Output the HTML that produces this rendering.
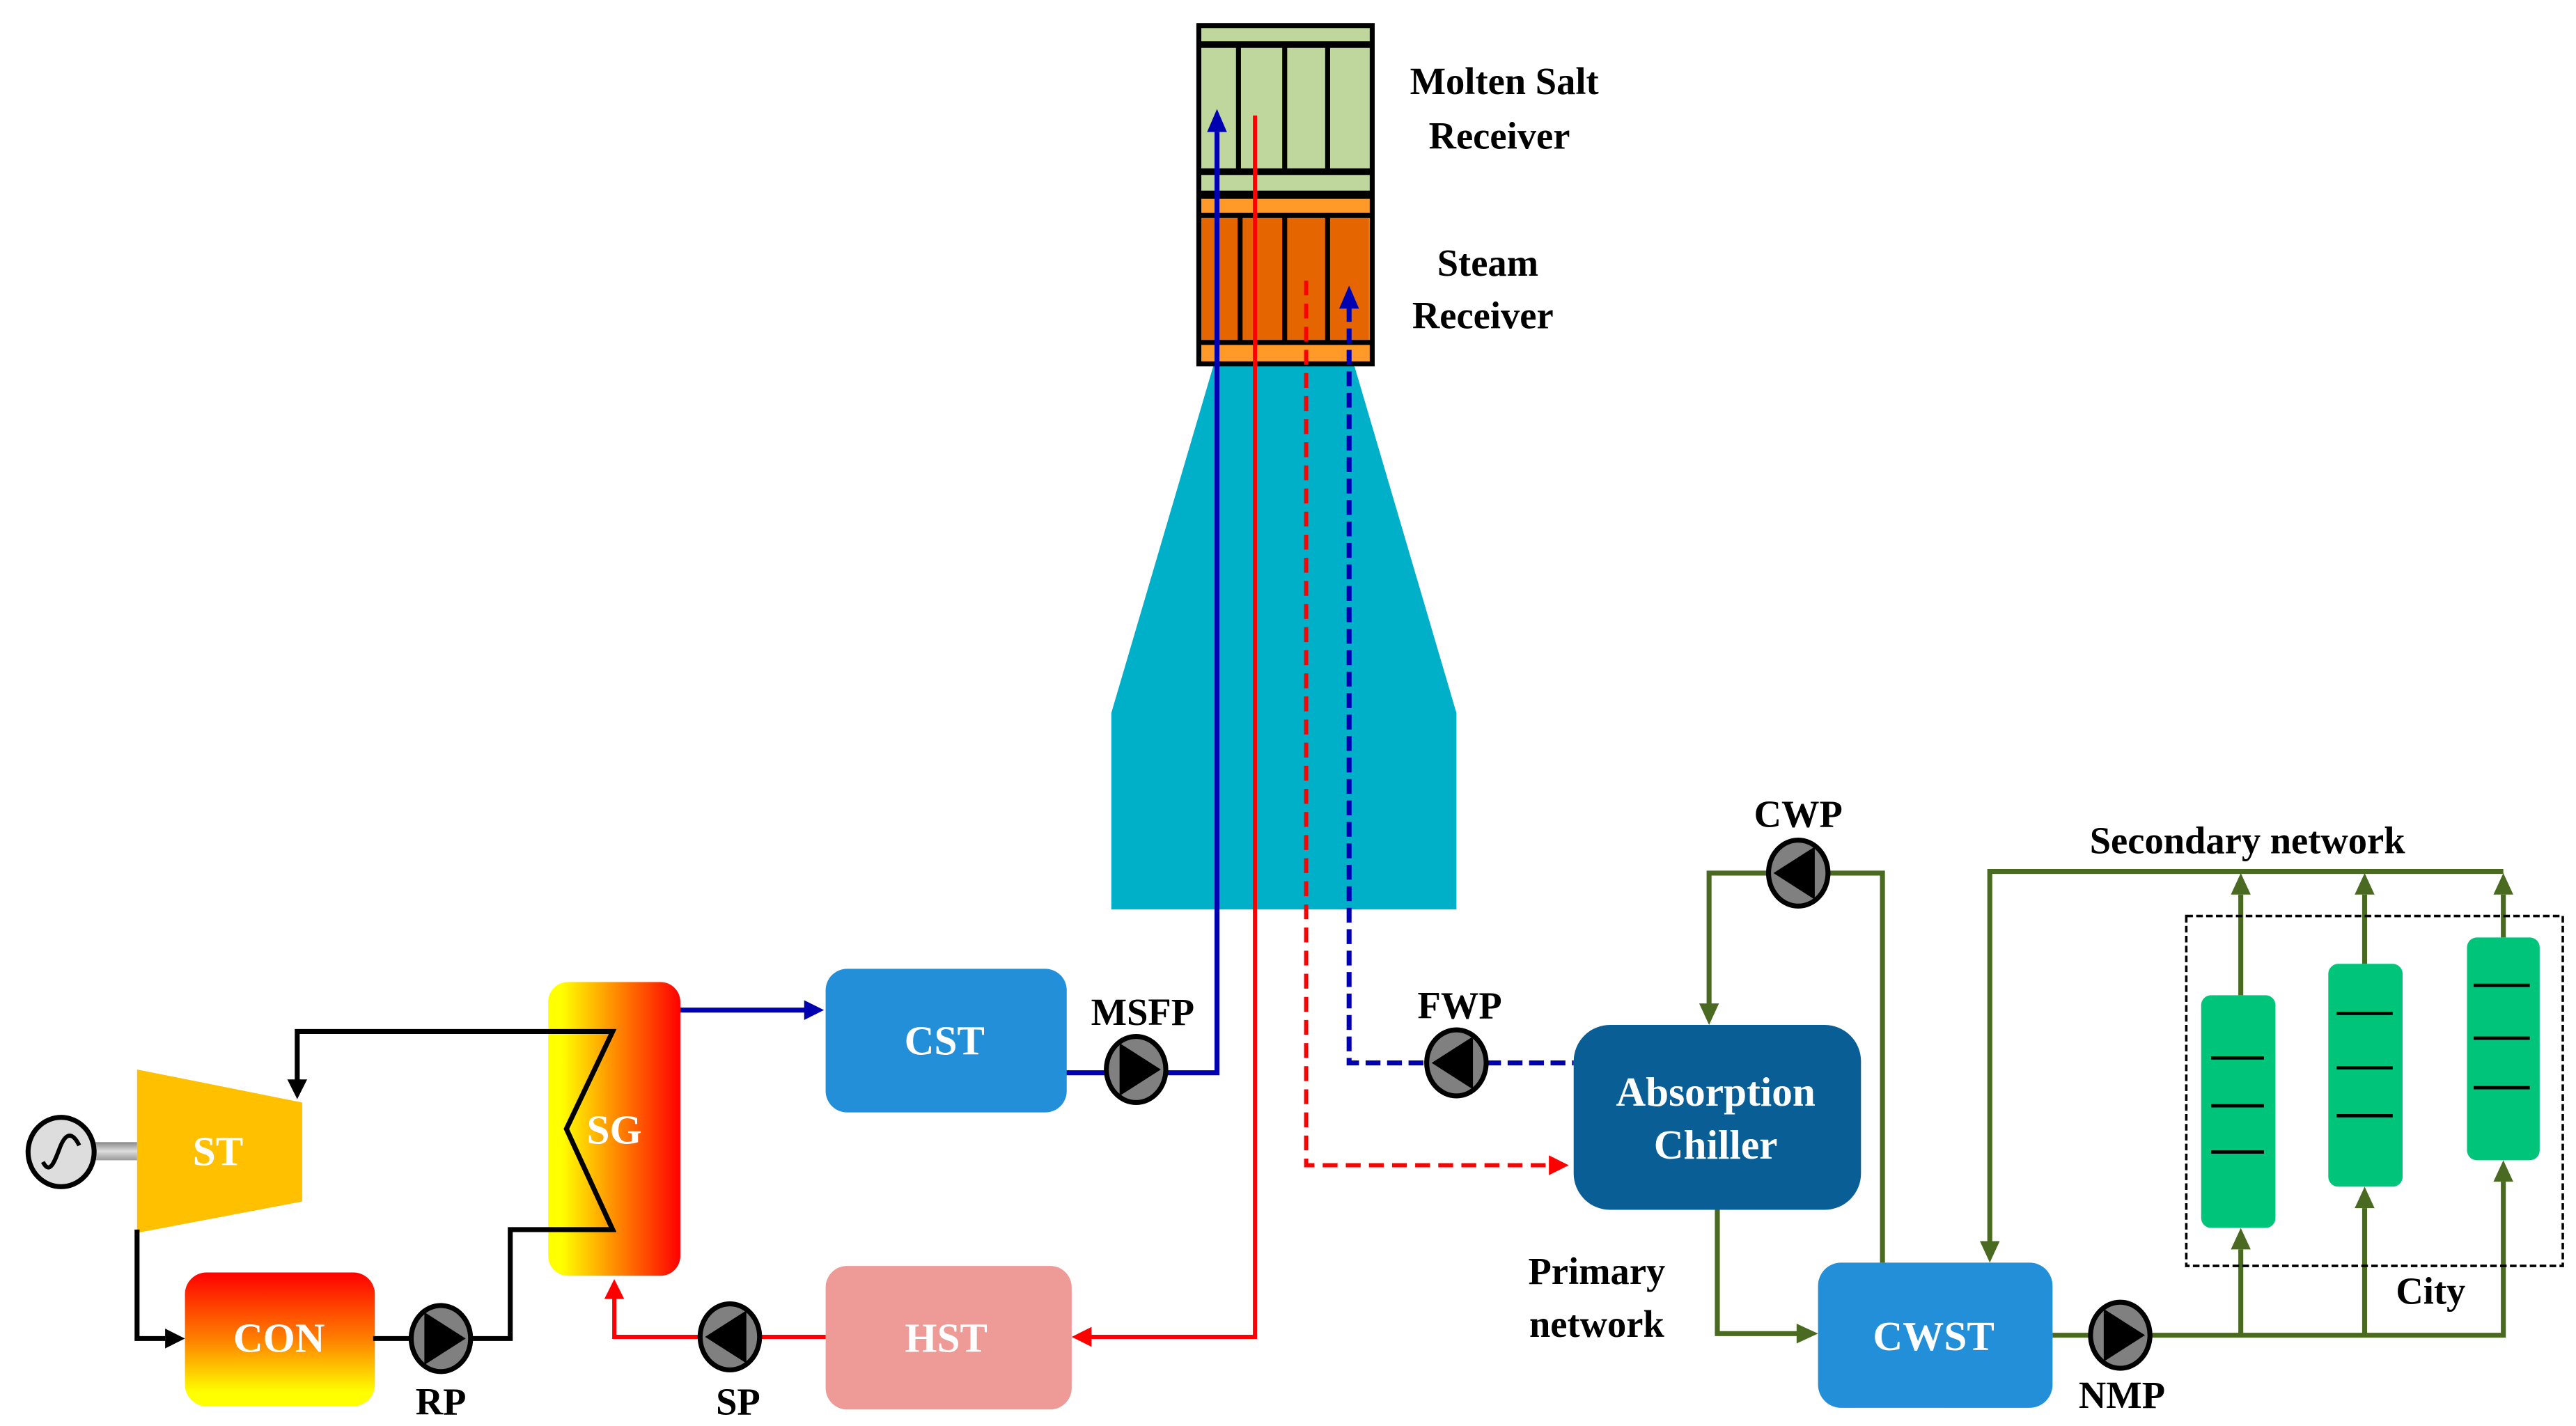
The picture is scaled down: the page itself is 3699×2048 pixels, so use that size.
<!DOCTYPE html>
<html><head><meta charset="utf-8"><style>html,body{margin:0;padding:0;background:#fff}svg{display:block}</style></head>
<body>
<svg width="3699" height="2048" viewBox="0 0 1560 864" preserveAspectRatio="none" xmlns="http://www.w3.org/2000/svg" font-family="'Liberation Serif', serif" font-weight="bold">
<defs>
<linearGradient id="sg" x1="0" y1="0" x2="1" y2="0"><stop offset="0.1" stop-color="#FFFF00"/><stop offset="0.55" stop-color="#FF8000"/><stop offset="1" stop-color="#FF0000"/></linearGradient>
<linearGradient id="con" x1="0" y1="0" x2="0" y2="1"><stop offset="0" stop-color="#FF0000"/><stop offset="0.5" stop-color="#FF8000"/><stop offset="0.9" stop-color="#FFFF00"/></linearGradient>
<linearGradient id="shaft" x1="0" y1="0" x2="0" y2="1"><stop offset="0" stop-color="#888"/><stop offset="0.5" stop-color="#ddd"/><stop offset="1" stop-color="#999"/></linearGradient>
</defs>

<!-- beam -->
<polygon points="735,221 820,221 882,432 882,551 673,551 673,432" fill="#00AFC8"/>

<!-- receiver -->
<rect x="725" y="15" width="106" height="102" fill="#BFD79C"/>
<rect x="725" y="117" width="106" height="104" fill="#FF9A28"/>
<rect x="727" y="132" width="102" height="74" fill="#E56600"/>
<g stroke="#000" fill="none">
<rect x="726" y="15.5" width="105" height="205" stroke-width="3"/>
<line x1="726" y1="27" x2="831" y2="27" stroke-width="4"/>
<line x1="726" y1="104" x2="831" y2="104" stroke-width="4"/>
<line x1="726" y1="118" x2="831" y2="118" stroke-width="5"/>
<line x1="726" y1="130.5" x2="831" y2="130.5" stroke-width="3"/>
<line x1="726" y1="207.5" x2="831" y2="207.5" stroke-width="3"/>
<line x1="750" y1="27" x2="750" y2="104" stroke-width="3"/>
<line x1="778" y1="27" x2="778" y2="104" stroke-width="3"/>
<line x1="804" y1="27" x2="804" y2="104" stroke-width="3"/>
<line x1="751" y1="130" x2="751" y2="207" stroke-width="3"/>
<line x1="778" y1="130" x2="778" y2="207" stroke-width="3"/>
<line x1="804" y1="130" x2="804" y2="207" stroke-width="3"/>
</g>
<g font-size="23" text-anchor="middle" fill="#000">
<text x="911" y="57">Molten Salt</text>
<text x="908" y="90">Receiver</text>
<text x="901" y="167">Steam</text>
<text x="898" y="199">Receiver</text>
</g>

<!-- blue solid loop -->
<polyline points="737,80 737,650 706,650" fill="none" stroke="#0000B0" stroke-width="3"/>
<polygon points="737,66 731,80 743,80" fill="#0000B0"/>
<line x1="645" y1="650" x2="670" y2="650" stroke="#0000B0" stroke-width="3"/>
<line x1="411" y1="612" x2="488" y2="612" stroke="#0000B0" stroke-width="3"/>
<polygon points="499,612 487,606 487,618" fill="#0000B0"/>

<!-- red solid -->
<polyline points="760,70 760,810 660,810" fill="none" stroke="#FF0000" stroke-width="2.5"/>
<polygon points="649,810 661,804 661,816" fill="#FF0000"/>
<polyline points="500,810 460,810" fill="none" stroke="#FF0000" stroke-width="2.5"/>
<polyline points="424,810 372,810 372,786" fill="none" stroke="#FF0000" stroke-width="2.5"/>
<polygon points="372,775 366,787 378,787" fill="#FF0000"/>

<!-- red dashed -->
<polyline points="791,170 791,706 938,706" fill="none" stroke="#FF0000" stroke-width="2.5" stroke-dasharray="9,5"/>
<polygon points="950,706 938,700 938,712" fill="#FF0000"/>
<!-- blue dashed -->
<polyline points="817,186 817,644 864,644" fill="none" stroke="#0000B0" stroke-width="3" stroke-dasharray="9,4"/>
<polygon points="817,173 811,187 823,187" fill="#0000B0"/>
<line x1="900" y1="644" x2="953" y2="644" stroke="#0000B0" stroke-width="3" stroke-dasharray="9,4"/>

<!-- boxes -->
<rect x="332" y="595" width="80" height="178" rx="12" fill="url(#sg)"/>
<rect x="500" y="587" width="146" height="87" rx="13" fill="#228FD8"/>
<rect x="500" y="767" width="149" height="87" rx="13" fill="#EE9A96"/>
<rect x="112" y="771" width="115" height="81" rx="13" fill="url(#con)"/>
<polygon points="83,648 183,668 183,728 83,747" fill="#FFC000"/>
<rect x="57" y="692" width="26" height="11" fill="url(#shaft)"/>
<ellipse cx="37" cy="698" rx="20" ry="21" fill="#ddd" stroke="#000" stroke-width="3"/>
<path d="M26,704 C30,712 33,704 36,696 C39,688 43,684 48,694" fill="none" stroke="#000" stroke-width="2.5"/>
<rect x="953" y="621" width="174" height="112" rx="22" fill="#095E96"/>
<rect x="1101" y="765" width="142" height="88" rx="14" fill="#228FD8"/>

<!-- black steam loop (on top of SG) -->
<polyline points="180,655 180,625 371,625 343,684 371,745 309,745 309,811 285,811" fill="none" stroke="#000" stroke-width="3"/>
<polygon points="180,666 174,654 186,654" fill="#000"/>
<polyline points="83,745 83,811 100,811" fill="none" stroke="#000" stroke-width="3"/>
<polygon points="112,811 100,805 100,817" fill="#000"/>
<line x1="226" y1="811" x2="250" y2="811" stroke="#000" stroke-width="3"/>

<g font-size="25" fill="#fff" text-anchor="middle">
<text x="372" y="693">SG</text>
<text x="572" y="639">CST</text>
<text x="573" y="819">HST</text>
<text x="169" y="819">CON</text>
<text x="132" y="706">ST</text>
<text x="1039" y="670">Absorption</text>
<text x="1039" y="702">Chiller</text>
<text x="1171" y="818">CWST</text>
</g>

<!-- green network -->
<g fill="none" stroke="#4A6A22" stroke-width="3">
<polyline points="1040,733 1040,808 1089,808"/>
<polyline points="1035,609 1035,529 1071,529"/>
<polyline points="1107,529 1140,529 1140,765"/>
<polyline points="1205,753 1205,528 1516,528"/>
<polyline points="1243,809 1266,809"/>
<polyline points="1302,809 1516,809 1516,716"/>
<line x1="1357" y1="809" x2="1357" y2="757"/>
<line x1="1432" y1="809" x2="1432" y2="732"/>
<line x1="1357" y1="603" x2="1357" y2="542"/>
<line x1="1432" y1="584" x2="1432" y2="542"/>
<line x1="1516" y1="568" x2="1516" y2="542"/>
</g>
<g fill="#4A6A22">
<polygon points="1035,621 1029,608 1041,608"/>
<polygon points="1101,808 1088,802 1088,814"/>
<polygon points="1205,765 1199,752 1211,752"/>
<polygon points="1357,744 1351,757 1363,757"/>
<polygon points="1432,719 1426,732 1438,732"/>
<polygon points="1516,703 1510,716 1522,716"/>
<polygon points="1357,529 1351,542 1363,542"/>
<polygon points="1432,529 1426,542 1438,542"/>
<polygon points="1516,529 1510,542 1522,542"/>
</g>
<rect x="1324" y="555" width="228" height="212" fill="none" stroke="#000" stroke-width="1.5" stroke-dasharray="4,2"/>
<rect x="1333" y="603" width="45" height="141" rx="6" fill="#00C47A"/>
<rect x="1410" y="584" width="45" height="135" rx="6" fill="#00C47A"/>
<rect x="1494" y="568" width="44" height="135" rx="6" fill="#00C47A"/>
<g stroke="#000" stroke-width="2">
<line x1="1339" y1="641" x2="1371" y2="641"/><line x1="1339" y1="670" x2="1371" y2="670"/><line x1="1339" y1="698" x2="1371" y2="698"/>
<line x1="1415" y1="614" x2="1449" y2="614"/><line x1="1415" y1="647" x2="1449" y2="647"/><line x1="1415" y1="676" x2="1449" y2="676"/>
<line x1="1498" y1="597" x2="1532" y2="597"/><line x1="1498" y1="629" x2="1532" y2="629"/><line x1="1498" y1="659" x2="1532" y2="659"/>
</g>

<!-- pumps -->
<g stroke="#000" stroke-width="3">
<ellipse cx="688" cy="648" rx="18" ry="20" fill="#808080"/>
<ellipse cx="267" cy="811" rx="18" ry="20" fill="#808080"/>
<ellipse cx="442" cy="810" rx="18" ry="20" fill="#808080"/>
<ellipse cx="882" cy="644" rx="18" ry="20" fill="#808080"/>
<ellipse cx="1089" cy="529" rx="18" ry="20" fill="#808080"/>
<ellipse cx="1284" cy="809" rx="18" ry="20" fill="#808080"/>
</g>
<g fill="#000">
<polygon points="678,632 678,664 703,648"/>
<polygon points="257,795 257,827 282,811"/>
<polygon points="452,794 452,826 427,810"/>
<polygon points="892,628 892,660 867,644"/>
<polygon points="1099,513 1099,545 1074,529"/>
<polygon points="1274,793 1274,825 1299,809"/>
</g>

<g font-size="23" fill="#000" text-anchor="middle">
<text x="692" y="621">MSFP</text>
<text x="267" y="857">RP</text>
<text x="447" y="857">SP</text>
<text x="884" y="617">FWP</text>
<text x="1089" y="501">CWP</text>
<text x="1361" y="517">Secondary network</text>
<text x="967" y="778">Primary</text>
<text x="967" y="810">network</text>
<text x="1285" y="853">NMP</text>
<text x="1472" y="790">City</text>
</g>
</svg>
</body></html>
